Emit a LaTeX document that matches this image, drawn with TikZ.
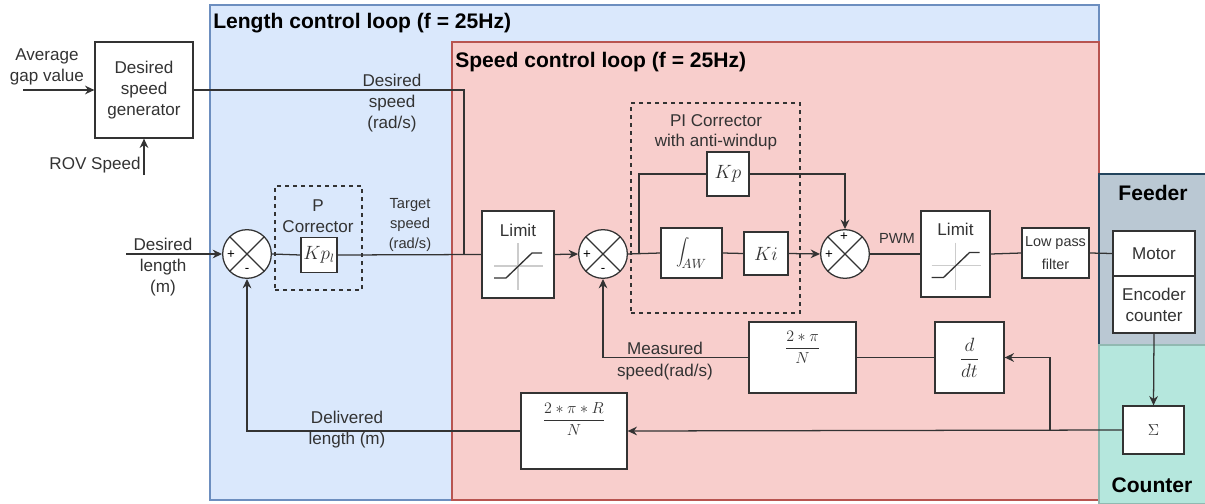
\documentclass[tikz,border=0pt]{standalone}
\usepackage{fontspec}
\setmainfont{Liberation Sans}
\usetikzlibrary{arrows.meta,calc}
\definecolor{lnc}{HTML}{333333}
\definecolor{txt}{HTML}{333333}
\definecolor{bluef}{HTML}{DAE8FC}
\definecolor{blued}{HTML}{6C8EBF}
\definecolor{redf}{HTML}{F8CECC}
\definecolor{redd}{HTML}{B85450}
\definecolor{feedf}{HTML}{BAC8D3}
\definecolor{feedd}{HTML}{23445D}
\definecolor{cntf}{HTML}{B5E7DD}
\newcommand\fmain{\fontsize{12.8}{15.75}\selectfont}
\newcommand\fsml{\fontsize{11}{15}\selectfont}
\newcommand\flpf{\fontsize{10.8}{17}\selectfont}
\newcommand\fttl{\fontsize{15.8}{18}\selectfont\bfseries}
\newcommand\limicon[1]{%
  \draw[black!20,line width=1pt] ([shift={(-24,11.5)}]#1.center) -- ++(49,0);
  \draw[black!20,line width=1pt] ([shift={(0,-11.5)}]#1.center) -- ++(0,47);
  \draw[lnc,line width=1pt] ([shift={(-24,23.5)}]#1.center) -- ++(12,0) -- ++(26,-25) -- ++(10,0);}
\begin{document}
\begin{tikzpicture}[x=0.75pt,y=-0.75pt,
  sz/.style 2 args={minimum width={#1*0.75pt}, minimum height={#2*0.75pt}},
  box/.style={draw=lnc, fill=white, line width=0.95pt, inner sep=0pt, align=center, font=\fmain, text=txt},
  dbox/.style={draw=lnc, dashed, line width=0.95pt, inner sep=0pt},
  lbl/.style={inner sep=0pt, align=center, font=\fmain, text=txt},
  slbl/.style={inner sep=0pt, align=center, font=\fsml, text=txt},
  ttl/.style={inner sep=0pt, font=\fttl, text=black},
  sgn/.style={inner sep=0pt, font=\fontsize{10}{11}\selectfont, text=black},
  sumc/.style={circle, draw=lnc, fill=white, line width=0.95pt, inner sep=0pt, minimum size=36.5pt,
    path picture={\draw[lnc,line width=0.95pt] (path picture bounding box.north west) -- (path picture bounding box.south east)
      (path picture bounding box.north east) -- (path picture bounding box.south west);}},
  wire/.style={draw=lnc, line width=0.95pt},
  arr/.style={wire, -{Stealth[length=7pt,width=6.5pt]}}
]
\useasboundingbox (0,0) rectangle (1205,503);
% regions
\draw[fill=bluef, draw=blued, line width=0.8pt] (210,5) rectangle (1099,500);
\draw[fill=redf, draw=redd, line width=0.8pt] (452,42) rectangle (1099,500);
\draw[fill=feedf, draw=feedd, line width=0.8pt] (1099,174) rectangle (1206,345);
\draw[fill=cntf, draw=cntf!80!black, line width=0.8pt] (1099,345) rectangle (1206,504);
\node[ttl, anchor=west] (tlen) at (213,23) {Length control loop (f = 25Hz)};
\node[ttl, anchor=west] (tspd) at (455,62) {Speed control loop (f = 25Hz)};
\node[ttl] (tfeed) at (1153,193) {Feeder};
\node[ttl] (tcnt) at (1152,485) {Counter};

% dashed groups
\node[dbox, sz={87}{104}] (pgrp) at (318.5,238) {};
\node[dbox, sz={169}{210}] (pigrp) at (715.5,208) {};

% blocks
\node[box, sz={98}{96}] (gen) at (144,90) {Desired\\speed\\generator};
\node[sumc] (s1) at (247,254) {};
\node[box, sz={36}{35}, font=\fontsize{13.5}{15}\selectfont] (kpl) at (319,255) {$Kp_l$};
\node[box, sz={72}{87}] (lim1) at (518,254.5) {};
\node[sumc] (s2) at (603,254) {};
\node[box, sz={42}{44}, font=\fontsize{13.5}{15}\selectfont] (kp) at (728,174) {$Kp$};
\node[box, sz={61}{50}, font=\fontsize{14}{15}\selectfont] (integ) at (691.5,253) {$\displaystyle\int_{\!AW}$};
\node[box, sz={44}{43}, font=\fontsize{13.5}{15}\selectfont] (ki) at (766,253.5) {$Ki$};
\node[sumc] (s3) at (845,254) {};
\node[box, sz={69}{86}] (lim2) at (955.5,254) {};
\node[box, sz={67}{50}, font=\flpf] (lpf) at (1055.5,253) {Low pass\\filter};
\node[box, sz={82}{45}] (motor) at (1154,253.5) {Motor};
\node[box, sz={82}{57}] (enc) at (1154,304.5) {Encoder\\counter};
\node[box, sz={61}{48}, font=\fontsize{11.5}{13}\selectfont] (sig) at (1153.5,430) {$\Sigma$};
\node[box, sz={69}{71}] (dt) at (969.5,357.5) {\fontsize{15}{17}\selectfont$\displaystyle\frac{d}{dt}$};
\node[box, sz={107}{71}] (f2pi) at (802.5,357.5) {};
\node[box, sz={106}{76}] (fR) at (574,431) {};
\node[lbl] (f2pit) at ($(f2pi.center)+(0,-10)$) {\fontsize{13}{15}\selectfont$\displaystyle\frac{2*\pi}{N}$};
\node[lbl] (fRt) at ($(fR.center)+(0,-12)$) {\fontsize{13}{15}\selectfont$\displaystyle\frac{2*\pi*R}{N}$};
\node[lbl] (lim1t) at ($(lim1.center)+(0,-24.5)$) {Limit};
\node[lbl] (lim2t) at ($(lim2.center)+(0,-25)$) {Limit};
\limicon{lim1}
\limicon{lim2}

% sum signs
\node[sgn] (s1p) at ($(s1.center)+(-16,1)$) {+};
\node[sgn] (s1m) at ($(s1.center)+(0,16)$) {-};
\node[sgn] (s2p) at ($(s2.center)+(-16,1)$) {+};
\node[sgn] (s2m) at ($(s2.center)+(0,16)$) {-};
\node[sgn] (s3p) at ($(s3.center)+(-16,1)$) {+};
\node[sgn] (s3t) at ($(s3.center)+(-1,-17)$) {+};

% labels
\node[lbl] (avg) at (47,67) {Average\\gap value};
\node[lbl] (rov) at (95,165) {ROV Speed};
\node[lbl] (dsp) at (392,103) {Desired\\speed\\(rad/s)};
\node[lbl] (dlen) at (163,267) {Desired\\length\\(m)};
\node[lbl] (pcor) at (318,216.5) {P\\Corrector};
\node[slbl] (tsp) at (410,225) {Target\\speed\\(rad/s)};
\node[lbl, font=\fontsize{12.8}{15}\selectfont] (picor) at (716,132) {PI Corrector\\with anti-windup};
\node[slbl] (pwm) at (897,238) {PWM};
\node[lbl, font=\fontsize{12.8}{17}\selectfont] (meas) at (665,361) {Measured\\speed(rad/s)};
\node[lbl] (deliv) at (347,430) {Delivered\\length (m)};

% free ends
\coordinate (avgin) at (23,90);
\coordinate (rovin) at (144,175);
\coordinate (dlenin) at (126,254);
\coordinate (jn) at (464,254);
\coordinate (br1) at (639,254);
\coordinate (br2) at (1050,430);

% connectors
\draw[arr] (avgin) -- (gen.west);
\draw[arr] (rovin) -- (gen.south);
\draw[wire] (gen.east) -| (jn);
\draw[arr] (dlenin) -- (s1.west);
\draw[wire] (s1.east) -- (kpl.west);
\draw[wire] (kpl.east) -- (lim1.west);
\draw[arr] (lim1.east) -- (s2.west);
\draw[wire] (s2.east) -- (integ.west);
\draw[wire] (br1) |- (kp.west);
\draw[arr] (kp.east) -| (s3.north);
\draw[wire] (integ.east) -- (ki.west);
\draw[arr] (ki.east) -- (s3.west);
\draw[wire] (s3.east) -- (lim2.west);
\draw[wire] (lim2.east) -- (lpf.west);
\draw[wire] (lpf.east) -- (motor.west);
\draw[arr] (enc.south) -- (sig.north);
\draw[arr] (sig.west) -- (fR.east);
\draw[arr] (br2) |- (dt.east);
\draw[wire] (dt.west) -- (f2pi.east);
\draw[arr] (f2pi.west) -| (s2.south);
\draw[arr] (fR.west) -| (s1.south);
\end{tikzpicture}
\end{document}
